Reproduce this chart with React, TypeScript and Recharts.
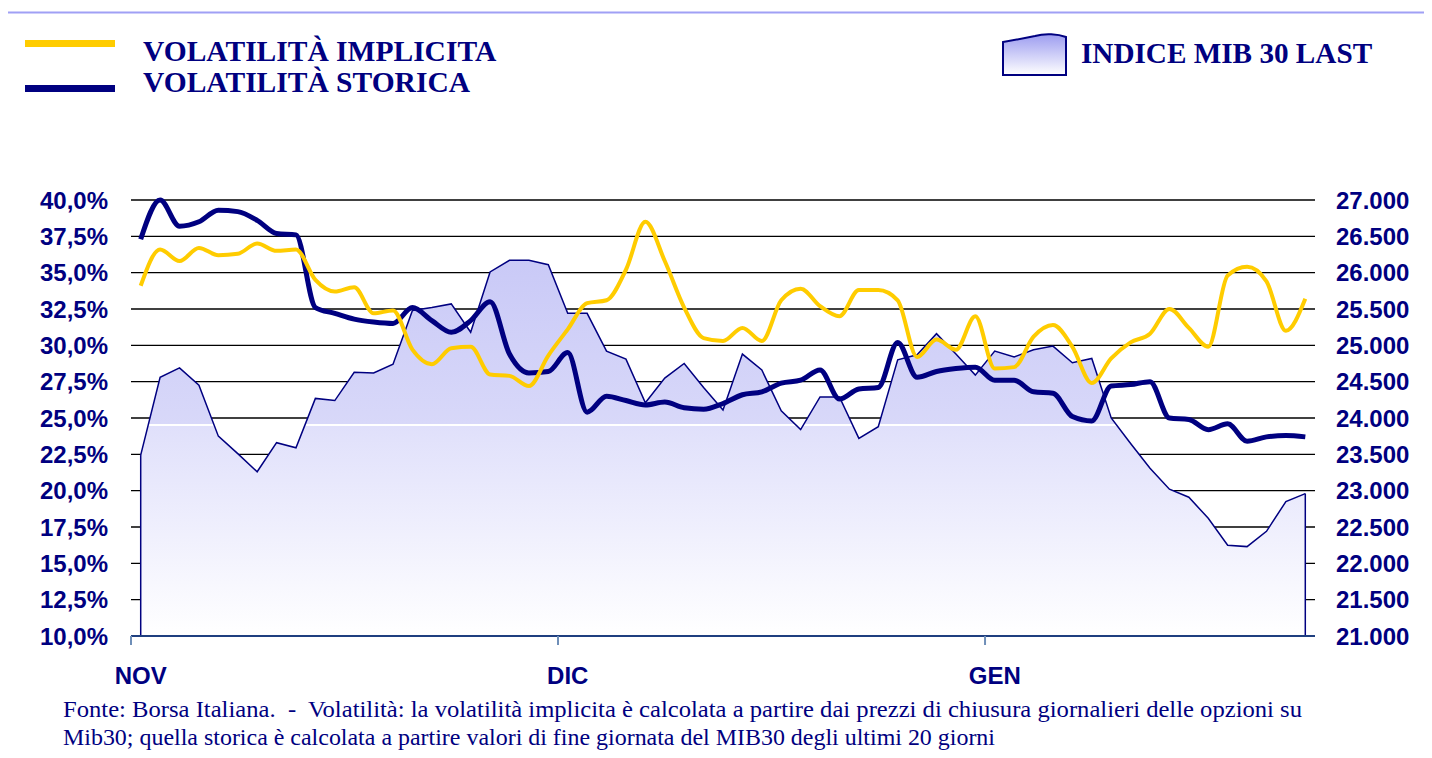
import { Area, CartesianGrid, ComposedChart, Line, ReferenceLine, XAxis, YAxis } from "recharts";

// un punto per seduta, da inizio novembre a fine gennaio
const MONTHS = ["NOV", "DIC", "GEN"];
const MONTH_START = [0, 22, 44];

const MIB30 = [
  23490, 24560, 24690, 24450, 23750, 23510, 23260, 23660, 23590, 24270, 24240, 24630, 24620, 24740, 25480, 25520,
  25570, 25180, 26010, 26170, 26170, 26110, 25440, 25440, 24920, 24810, 24210, 24550, 24750, 24420, 24110, 24880,
  24660, 24100, 23840, 24290, 24290, 23720, 23880, 24800, 24870, 25160, 24880, 24590, 24920, 24840, 24940, 24990,
  24760, 24820, 24000, 23650, 23310, 23020, 22910, 22620, 22250, 22230, 22440, 22850, 22960,
];

const VOL_IMPLICITA = [
  34.1, 36.6, 35.8, 36.7, 36.2, 36.3, 37.0, 36.5, 36.6, 34.5, 33.7, 34.0, 32.2, 32.4, 29.7, 28.7, 29.8, 29.9, 28.0,
  27.9, 27.2, 29.3, 31.1, 32.9, 33.1, 35.2, 38.5, 35.8, 32.6, 30.5, 30.3, 31.2, 30.3, 33.1, 33.9, 32.7, 32.0, 33.8,
  33.8, 33.1, 29.2, 30.4, 29.7, 32.0, 28.4, 28.5, 30.6, 31.4, 29.9, 27.4, 29.1, 30.2, 30.8, 32.5, 31.2, 29.9, 34.8,
  35.4, 34.4, 31.0, 33.2,
];

const VOL_STORICA = [
  37.3, 40.0, 38.2, 38.5, 39.3, 39.2, 38.6, 37.7, 37.6, 32.6, 32.2, 31.8, 31.6, 31.5, 32.6, 31.7, 30.9, 31.7, 33.0,
  29.4, 28.1, 28.2, 29.5, 25.4, 26.5, 26.2, 25.9, 26.1, 25.7, 25.6, 26.0, 26.6, 26.8, 27.4, 27.6, 28.3, 26.3, 27.0,
  27.1, 30.2, 27.8, 28.2, 28.4, 28.5, 27.6, 27.6, 26.8, 26.7, 25.1, 24.8, 27.2, 27.3, 27.5, 25.0, 24.9, 24.2, 24.6,
  23.4, 23.7, 23.8, 23.7,
];

const PCT_TICKS = [10, 12.5, 15, 17.5, 20, 22.5, 25, 27.5, 30, 32.5, 35, 37.5, 40];
const MIB_TICKS = [21000, 21500, 22000, 22500, 23000, 23500, 24000, 24500, 25000, 25500, 26000, 26500, 27000];

const NAVY = "#000080";
const YELLOW = "#FFCC00";
const FRAME = "#a0a0f5";
const SANS = "'Liberation Sans', Arial, sans-serif";
const SERIF = "'Liberation Serif', 'Times New Roman', serif";

const W = 1432;
const H = 758;
const MARGIN = { top: 200, right: 7, bottom: 82, left: 11 };
const LEFT_AXIS_W = 120;
const RIGHT_AXIS_W = 110;
const PLOT_W = W - MARGIN.left - MARGIN.right - LEFT_AXIS_W - RIGHT_AXIS_W;
const CAT_W = PLOT_W / MIB30.length;

const data = MIB30.map((mib, i) => ({ i, mib, impl: VOL_IMPLICITA[i], stor: VOL_STORICA[i] }));

const pct = (v: number) => v.toFixed(1).replace(".", ",") + "%";
const thousands = (v: number) => Math.floor(v / 1000) + "." + String(v % 1000).padStart(3, "0");

function MonthTick({ x, y, payload }: any) {
  const k = MONTH_START.indexOf(payload.value + 0.5);
  return (
    <text x={x + CAT_W / 2} y={y} dy={37} textAnchor="middle" fill={NAVY} fontSize={24} fontWeight={700} fontFamily={SANS}>
      {MONTHS[k]}
    </text>
  );
}

function Decor() {
  return (
    <svg width={W} height={H} style={{ position: "absolute", left: 0, top: 0 }}>
      <defs>
        <linearGradient id="legendFill" x1="0" y1="0" x2="0" y2="1">
          <stop offset="0" stopColor="#9c9cf0" />
          <stop offset="1" stopColor="#ffffff" />
        </linearGradient>
      </defs>
      <rect x={6} y={11.5} width={W - 6} height={2} fill={FRAME} />
      <rect x={5.7} y={11.5} width={2} height={H} fill={FRAME} />

      <rect x={25} y={40} width={90} height={7} fill={YELLOW} />
      <rect x={25} y={85} width={90} height={7} fill={NAVY} />
      <text x={143} y={61} fill={NAVY} fontSize={29.5} fontWeight={700} fontFamily={SERIF}>
        VOLATILITÀ IMPLICITA
      </text>
      <text x={143} y={92} fill={NAVY} fontSize={29.5} fontWeight={700} fontFamily={SERIF}>
        VOLATILITÀ STORICA
      </text>

      <path
        d="M1003,75 L1003,42 C1015,40 1025,38 1035,36 C1045,33 1058,34 1066,37 L1066,75 Z"
        fill="url(#legendFill)"
        stroke={NAVY}
        strokeWidth={2}
      />
      <text x={1081} y={63} fill={NAVY} fontSize={29.2} fontWeight={700} fontFamily={SERIF}>
        INDICE MIB 30 LAST
      </text>

      <text
        x={63}
        y={717}
        fill={NAVY}
        fontSize={24}
        fontFamily={SERIF}
        textLength={1239}
        lengthAdjust="spacingAndGlyphs"
        style={{ whiteSpace: "pre" }}
      >
        {"Fonte: Borsa Italiana.  -  Volatilità: la volatilità implicita è calcolata a partire dai prezzi di chiusura giornalieri delle opzioni su"}
      </text>
      <text
        x={63}
        y={745}
        fill={NAVY}
        fontSize={24}
        fontFamily={SERIF}
        textLength={932}
        lengthAdjust="spacingAndGlyphs"
      >
        Mib30; quella storica è calcolata a partire valori di fine giornata del MIB30 degli ultimi 20 giorni
      </text>
    </svg>
  );
}

export default function App() {
  const last = MIB30.length - 1;
  return (
    <div style={{ position: "relative", width: W, height: H, margin: -8, background: "#fff", overflow: "hidden" }}>
      <Decor />
      <div style={{ position: "absolute", left: 0, top: 0 }}>
        <ComposedChart width={W} height={H} data={data} margin={MARGIN}>
          <defs>
            <linearGradient id="mibFill" gradientUnits="userSpaceOnUse" x1="0" y1="200" x2="0" y2="636">
              <stop offset="0" stopColor="#c4c4f6" />
              <stop offset="0.513" stopColor="#d8d8f9" />
              <stop offset="0.514" stopColor="#ffffff" />
              <stop offset="0.518" stopColor="#ffffff" />
              <stop offset="0.519" stopColor="#e0e0fb" />
              <stop offset="1" stopColor="#ffffff" />
            </linearGradient>
          </defs>
          <CartesianGrid yAxisId="left" vertical={false} stroke="#000" strokeWidth={1.3} />
          <XAxis
            dataKey="i"
            type="number"
            domain={[-0.5, last + 0.5]}
            ticks={MONTH_START.map((s) => s - 0.5)}
            interval={0}
            tick={<MonthTick />}
            tickSize={9}
            tickMargin={2}
            tickLine={{ stroke: "#6f8fb8", strokeWidth: 2 }}
            axisLine={{ stroke: "#1f3f7f", strokeWidth: 2 }}
            height={40}
          />
          <YAxis
            yAxisId="left"
            domain={[10, 40]}
            ticks={PCT_TICKS}
            interval={0}
            tickFormatter={pct}
            axisLine={false}
            tickLine={false}
            tickSize={0}
            tickMargin={23}
            width={LEFT_AXIS_W}
            tick={{ fill: NAVY, fontSize: 24, fontWeight: 700, fontFamily: SANS }}
          />
          <YAxis
            yAxisId="right"
            orientation="right"
            domain={[21000, 27000]}
            ticks={MIB_TICKS}
            interval={0}
            tickFormatter={thousands}
            axisLine={false}
            tickLine={false}
            tickSize={0}
            tickMargin={21}
            width={RIGHT_AXIS_W}
            tick={{ fill: NAVY, fontSize: 24, fontWeight: 700, fontFamily: SANS }}
          />
          <Area
            yAxisId="right"
            dataKey="mib"
            type="linear"
            stroke={NAVY}
            strokeWidth={1.5}
            fill="url(#mibFill)"
            fillOpacity={1}
            isAnimationActive={false}
          />
          <ReferenceLine
            yAxisId="right"
            segment={[{ x: 0, y: 21000 }, { x: 0, y: MIB30[0] }]}
            stroke={NAVY}
            strokeWidth={1.5}
          />
          <ReferenceLine
            yAxisId="right"
            segment={[{ x: last, y: 21000 }, { x: last, y: MIB30[last] }]}
            stroke={NAVY}
            strokeWidth={1.5}
          />
          <Line
            yAxisId="left"
            dataKey="stor"
            type="monotone"
            stroke={NAVY}
            strokeWidth={5}
            dot={false}
            isAnimationActive={false}
          />
          <Line
            yAxisId="left"
            dataKey="impl"
            type="monotone"
            stroke={YELLOW}
            strokeWidth={4}
            dot={false}
            isAnimationActive={false}
          />
        </ComposedChart>
      </div>
    </div>
  );
}
